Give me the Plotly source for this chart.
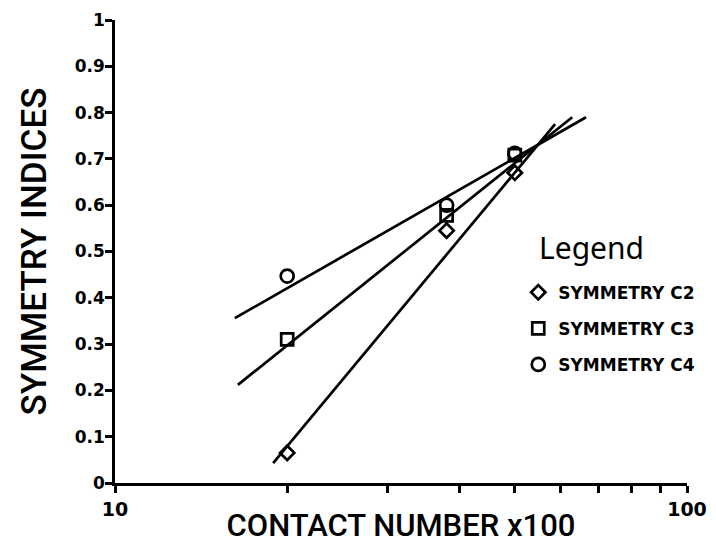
import plotly.graph_objects as go

# Measured symmetry indices at three contact numbers (x100)
contact = [20, 38, 50]
sym_c2 = [0.065, 0.545, 0.67]
sym_c3 = [0.31, 0.578, 0.708]
sym_c4 = [0.447, 0.600, 0.712]

# Fitted trend lines: (x start, x end) and (y start, y end)
fit_c2_x = [18.9, 58.8]
fit_c2_y = [0.043, 0.775]
fit_c3_x = [16.4, 63.0]
fit_c3_y = [0.212, 0.790]
fit_c4_x = [16.2, 66.6]
fit_c4_y = [0.356, 0.790]

y_ticks = [0, 0.1, 0.2, 0.3, 0.4, 0.5, 0.6, 0.7, 0.8, 0.9, 1]
y_tick_text = ["0", "0.1", "0.2", "0.3", "0.4", "0.5", "0.6", "0.7", "0.8", "0.9", "1"]
x_ticks = [10, 20, 30, 40, 50, 60, 70, 80, 90, 100]
x_tick_text = ["10", "", "", "", "", "", "", "", "", "100"]

fig = go.Figure()

line_style = dict(color="black", width=2.7)
for fx, fy in [(fit_c2_x, fit_c2_y), (fit_c3_x, fit_c3_y), (fit_c4_x, fit_c4_y)]:
    fig.add_trace(go.Scatter(x=fx, y=fy, mode="lines", line=line_style,
                             showlegend=False, hoverinfo="skip"))

series = [
    ("SYMMETRY C2", sym_c2, "diamond-open", 11),
    ("SYMMETRY C3", sym_c3, "square-open", 12),
    ("SYMMETRY C4", sym_c4, "circle-open", 13),
]
for i, (name, ys, sym, sz) in enumerate(series):
    fig.add_trace(go.Scatter(
        x=contact, y=ys, mode="markers", name=name, legendgroup=f"g{i}",
        marker=dict(symbol=sym, size=sz, color="black", line=dict(width=2.7, color="black")),
    ))

fig.add_annotation(text="Legend", xref="paper", yref="paper", x=0.737, y=0.508,
                   xanchor="left", yanchor="middle", showarrow=False,
                   font=dict(family="Noto Sans", size=30, color="black"))

fig.update_layout(
    width=716, height=544,
    margin=dict(l=115, r=29, t=20, b=61, autoexpand=False),
    paper_bgcolor="white", plot_bgcolor="white",
    showlegend=True,
    legend=dict(x=0.705, y=0.45, xanchor="left", yanchor="top",
                bgcolor="rgba(0,0,0,0)", tracegroupgap=11, itemwidth=30,
                font=dict(family="DejaVu Sans", size=17, color="black", weight="bold")),
    xaxis=dict(type="log", range=[1, 2], tickvals=x_ticks, ticktext=x_tick_text,
               automargin=False,
               showgrid=False, zeroline=False, showline=True, linecolor="black", linewidth=2.7,
               ticks="outside", ticklen=7, tickwidth=2.7, tickcolor="black",
               ticklabelstandoff=0,
               tickfont=dict(family="DejaVu Sans", size=19, color="black", weight="bold"),
               title=dict(text="CONTACT NUMBER x100", standoff=10,
                          font=dict(family="Roboto", size=31, color="black", weight=500))),
    yaxis=dict(range=[0, 1], tickvals=y_ticks, ticktext=y_tick_text,
               automargin=False,
               showgrid=False, zeroline=False, showline=True, linecolor="black", linewidth=2.7,
               ticks="outside", ticklen=7, tickwidth=2.7, tickcolor="black",
               ticklabelstandoff=-3,
               tickfont=dict(family="DejaVu Sans", size=17, color="black", weight="bold"),
               title=dict(text="SYMMETRY INDICES", standoff=18,
                          font=dict(family="Roboto", size=35, color="black", weight=500))),
)

fig.write_html("out.html")
